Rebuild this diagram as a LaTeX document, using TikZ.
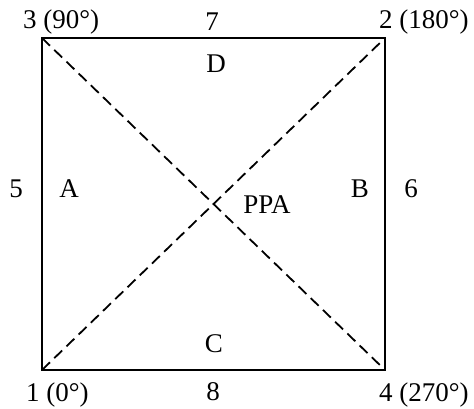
\documentclass[tikz,border=0pt]{standalone}
\usepackage{fontspec}
\setmainfont{Liberation Serif}
\begin{document}
\begin{tikzpicture}[x=1pt,y=-1pt,
  lbl/.style={inner sep=0pt,anchor=base,font=\fontsize{27}{31}\selectfont},
  lblw/.style={inner sep=0pt,anchor=base west,font=\fontsize{27}{31}\selectfont},
  side/.style={line width=2.2pt},
  diag/.style={line width=1.8pt,dash pattern=on 11pt off 6pt}]
\useasboundingbox (0,0) rectangle (474,408);
\coordinate (c3) at (42,38);
\coordinate (c2) at (385,38);
\coordinate (c1) at (42,370);
\coordinate (c4) at (385,370);
\draw[side] (c3) -- (c2) -- (c4) -- (c1) -- cycle;
\draw[diag] (c3) -- (c4);
\draw[diag] (c1) -- (c2);
\node[lblw] (l3) at (23,28) {3 (90°)};
\node[lblw] (l2) at (379,28) {2 (180°)};
\node[lblw] (l1) at (26,401) {1 (0°)};
\node[lblw] (l4) at (379,401) {4 (270°)};
\node[lbl] (l7) at (212,30) {7};
\node[lbl] (l8) at (213,400) {8};
\node[lbl] (l5) at (16,197) {5};
\node[lbl] (l6) at (411,197) {6};
\node[lbl] (lA) at (69,197) {A};
\node[lbl] (lB) at (360,197) {B};
\node[lbl] (lD) at (216,72) {D};
\node[lbl] (lC) at (214,352) {C};
\node[lbl] (lP) at (267,213) {PPA};
\end{tikzpicture}
\end{document}
